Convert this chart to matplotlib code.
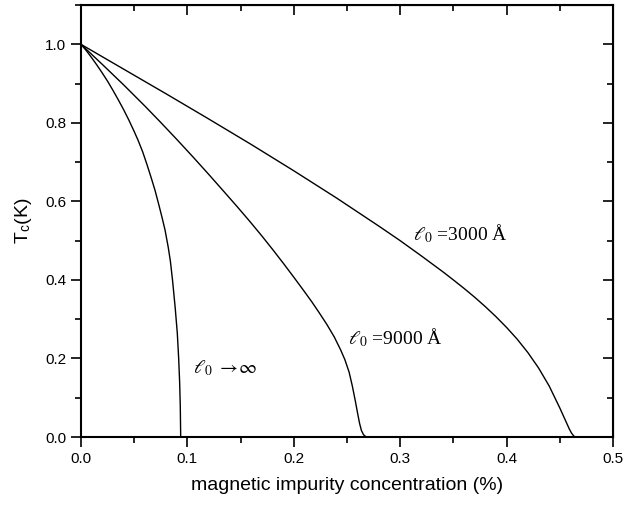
import matplotlib
matplotlib.use("Agg")
import matplotlib.pyplot as plt
from matplotlib.ticker import MultipleLocator

plt.rcParams['font.family'] = ['Liberation Sans', 'DejaVu Sans']
plt.rcParams['mathtext.fontset'] = 'stix'

# T_c curves (x: concentration %, y: T_c in K)
x_inf = [0.0, 0.005, 0.010, 0.015, 0.020, 0.025, 0.030, 0.035, 0.040, 0.045, 0.050, 0.0536,
         0.058, 0.062, 0.066, 0.0696, 0.073, 0.076, 0.079, 0.082, 0.084, 0.086, 0.0885,
         0.0905, 0.0918, 0.0927, 0.0933, 0.0937]
y_inf = [1.0, 0.984, 0.966, 0.947, 0.927, 0.906, 0.883, 0.859, 0.834, 0.807, 0.778, 0.756,
         0.726, 0.694, 0.660, 0.628, 0.593, 0.561, 0.527, 0.483, 0.448, 0.400, 0.330,
         0.265, 0.200, 0.140, 0.080, 0.0]

x_9000 = [0.0, 0.020, 0.040, 0.060, 0.075, 0.090, 0.105, 0.120, 0.135, 0.147, 0.159, 0.170,
          0.180, 0.190, 0.200, 0.209, 0.217, 0.224, 0.231, 0.238, 0.244, 0.248, 0.252,
          0.255, 0.2578, 0.2600, 0.2618, 0.2635, 0.2655, 0.2680]
y_9000 = [1.0, 0.949, 0.897, 0.843, 0.801, 0.758, 0.714, 0.669, 0.623, 0.586, 0.548, 0.512,
          0.478, 0.443, 0.407, 0.374, 0.344, 0.316, 0.287, 0.255, 0.222, 0.197, 0.165,
          0.130, 0.092, 0.060, 0.035, 0.017, 0.006, 0.0]

x_3000 = [0.0, 0.04, 0.08, 0.12, 0.16, 0.20, 0.24, 0.28, 0.30, 0.32, 0.34, 0.35, 0.36, 0.37,
          0.38, 0.39, 0.40, 0.41, 0.42, 0.43, 0.44, 0.45, 0.455, 0.459, 0.461, 0.463, 0.4645]
y_3000 = [1.0, 0.937, 0.874, 0.810, 0.745, 0.678, 0.609, 0.537, 0.500, 0.461, 0.421, 0.400,
          0.3785, 0.356, 0.332, 0.3065, 0.279, 0.249, 0.215, 0.176, 0.130, 0.074, 0.044,
          0.020, 0.010, 0.003, 0.0]

labels = [r'$\ell_0$ =3000 Å', r'$\ell_0$ =9000 Å', r'$\ell_0\ \rightarrow\!\infty$']
label_pos = [(0.312, 0.517), (0.251, 0.254), (0.105, 0.176)]

fig = plt.figure(figsize=(6.24, 5.07), dpi=100)
ax = fig.add_axes([0.1298, 0.138, 0.8526, 0.852])

for xs, ys in [(x_inf, y_inf), (x_9000, y_9000), (x_3000, y_3000)]:
    ax.plot(xs, ys, color='black', lw=1.0)

for txt, (tx, ty) in zip(labels, label_pos):
    ax.text(tx, ty, txt, fontsize=14, family='Liberation Serif', ha='left', va='center')

ax.set_xlim(0, 0.5)
ax.set_ylim(0, 1.1)
ax.xaxis.set_major_locator(MultipleLocator(0.1))
ax.xaxis.set_minor_locator(MultipleLocator(0.05))
ax.yaxis.set_major_locator(MultipleLocator(0.2))
ax.yaxis.set_minor_locator(MultipleLocator(0.1))
ax.tick_params(which='major', direction='out', length=7, width=1.2, labelsize=11)
ax.tick_params(which='minor', direction='out', length=4, width=1.2)
for s in ax.spines.values():
    s.set_linewidth(1.5)

# top / right ticks point inward
secx = ax.secondary_xaxis('top')
secx.xaxis.set_major_locator(MultipleLocator(0.1))
secx.xaxis.set_minor_locator(MultipleLocator(0.05))
secx.tick_params(which='major', direction='in', length=7, width=1.2, labeltop=False)
secx.tick_params(which='minor', direction='in', length=4, width=1.2)
secy = ax.secondary_yaxis('right')
secy.yaxis.set_major_locator(MultipleLocator(0.2))
secy.yaxis.set_minor_locator(MultipleLocator(0.1))
secy.tick_params(which='major', direction='in', length=7, width=1.2, labelright=False)
secy.tick_params(which='minor', direction='in', length=4, width=1.2)

ax.set_xlabel('magnetic impurity concentration (%)', fontsize=14, labelpad=8)
ax.set_ylabel(r'T$_\mathregular{c}$(K)', fontsize=14, labelpad=8)

fig.savefig('out.png', dpi=100)
